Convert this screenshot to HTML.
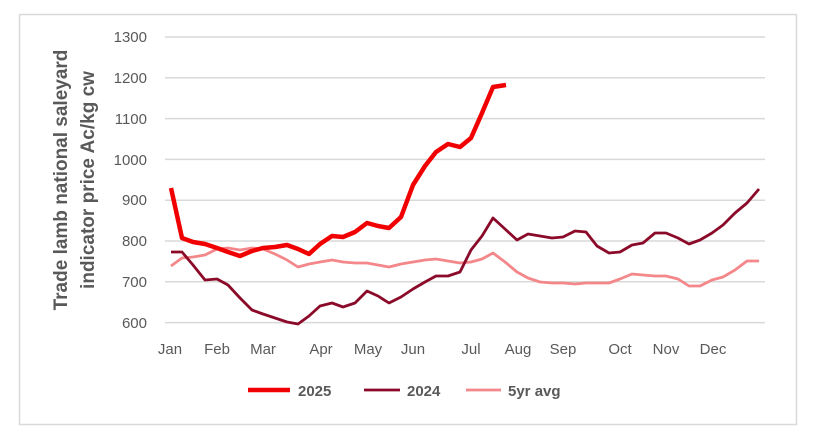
<!DOCTYPE html>
<html><head><meta charset="utf-8"><style>
body{margin:0;background:#fff;width:820px;height:432px;overflow:hidden}
svg text{font-family:"Liberation Sans",sans-serif}
</style></head><body>
<svg width="820" height="432" viewBox="0 0 820 432">
<rect x="0" y="0" width="820" height="432" fill="#fff"/>
<rect x="19.5" y="14.5" width="777" height="410" fill="none" stroke="#d9d9d9" stroke-width="1.5"/>
<g stroke="#d9d9d9" stroke-width="1.5">
<line x1="165" y1="37" x2="765" y2="37"/>
<line x1="165" y1="77.8" x2="765" y2="77.8"/>
<line x1="165" y1="118.6" x2="765" y2="118.6"/>
<line x1="165" y1="159.4" x2="765" y2="159.4"/>
<line x1="165" y1="200.2" x2="765" y2="200.2"/>
<line x1="165" y1="241" x2="765" y2="241"/>
<line x1="165" y1="281.8" x2="765" y2="281.8"/>
<line x1="165" y1="322.6" x2="765" y2="322.6"/>
</g>
<g font-size="15" fill="#595959" text-anchor="end">
<text x="147" y="42">1300</text><text x="147" y="83">1200</text><text x="147" y="124">1100</text>
<text x="147" y="165">1000</text><text x="147" y="205">900</text><text x="147" y="246">800</text>
<text x="147" y="287">700</text><text x="147" y="328">600</text>
</g>
<g font-size="15" fill="#595959" text-anchor="middle">
<text x="170" y="354">Jan</text><text x="217" y="354">Feb</text><text x="263" y="354">Mar</text>
<text x="321" y="354">Apr</text><text x="368" y="354">May</text><text x="413" y="354">Jun</text>
<text x="471" y="354">Jul</text><text x="518" y="354">Aug</text><text x="563" y="354">Sep</text>
<text x="620" y="354">Oct</text><text x="666" y="354">Nov</text><text x="713" y="354">Dec</text>
</g>
<g transform="translate(74,180) rotate(-90)" font-size="19" font-weight="bold" fill="#595959" text-anchor="middle">
<text x="0" y="-7">Trade lamb national saleyard</text>
<text x="0" y="20">indicator price Ac/kg cw</text>
</g>
<polyline fill="none" stroke="#f4878a" stroke-width="2.8" stroke-linejoin="round" points="171,266 182,258 193,257 205,255 217,249 228,248 240,250 252,248 263,249 275,254 287,260 298,267 309,264 320,262 332,260 343,262 355,263 367,263 378,265 389,267 401,264 413,262 425,260 436,259 448,261 460,263 471,262 482,259 493,253 505,262 517,272 528,278 540,282 552,283 563,283 575,284 586,283 597,283 609,283 620,279 632,274 643,275 655,276 666,276 678,279 689,286 700,286 712,280 723,277 735,270 747,261 759,261"/>
<polyline fill="none" stroke="#8b0a2a" stroke-width="2.8" stroke-linejoin="round" points="171,252 182,252 193,265 205,280 217,279 228,285 240,298 252,310 263,314 275,318 287,322 298,324 309,316 320,306 332,303 343,307 355,303 367,291 378,296 389,303 401,297 413,289 425,282 436,276 448,276 460,272 471,250 482,236 493,218 505,229 517,240 528,234 540,236 552,238 563,237 575,231 586,232 597,246 609,253 620,252 632,245 643,243 655,233 666,233 678,238 689,244 700,240 712,233 723,225 735,213 747,203 759,189"/>
<polyline fill="none" stroke="#f00000" stroke-width="4.5" stroke-linejoin="round" points="171,188 182,238 193,242 205,244 217,248 228,252 240,256 252,251 263,248 275,247 287,245 298,249 309,254 320,244 332,236 343,237 355,232 367,223 378,226 389,228 401,217 413,185 425,166 436,152 448,144 460,147 471,138 482,113 493,87 506,85"/>
<line x1="248" y1="390" x2="290" y2="390" stroke="#f00000" stroke-width="4.5"/>
<text x="298" y="396" font-size="15" font-weight="bold" fill="#595959">2025</text>
<line x1="364" y1="390" x2="400" y2="390" stroke="#8b0a2a" stroke-width="2.8"/>
<text x="407" y="396" font-size="15" font-weight="bold" fill="#595959">2024</text>
<line x1="466" y1="390" x2="501" y2="390" stroke="#f4878a" stroke-width="2.8"/>
<text x="508" y="396" font-size="15" font-weight="bold" fill="#595959">5yr avg</text>
</svg>
</body></html>
